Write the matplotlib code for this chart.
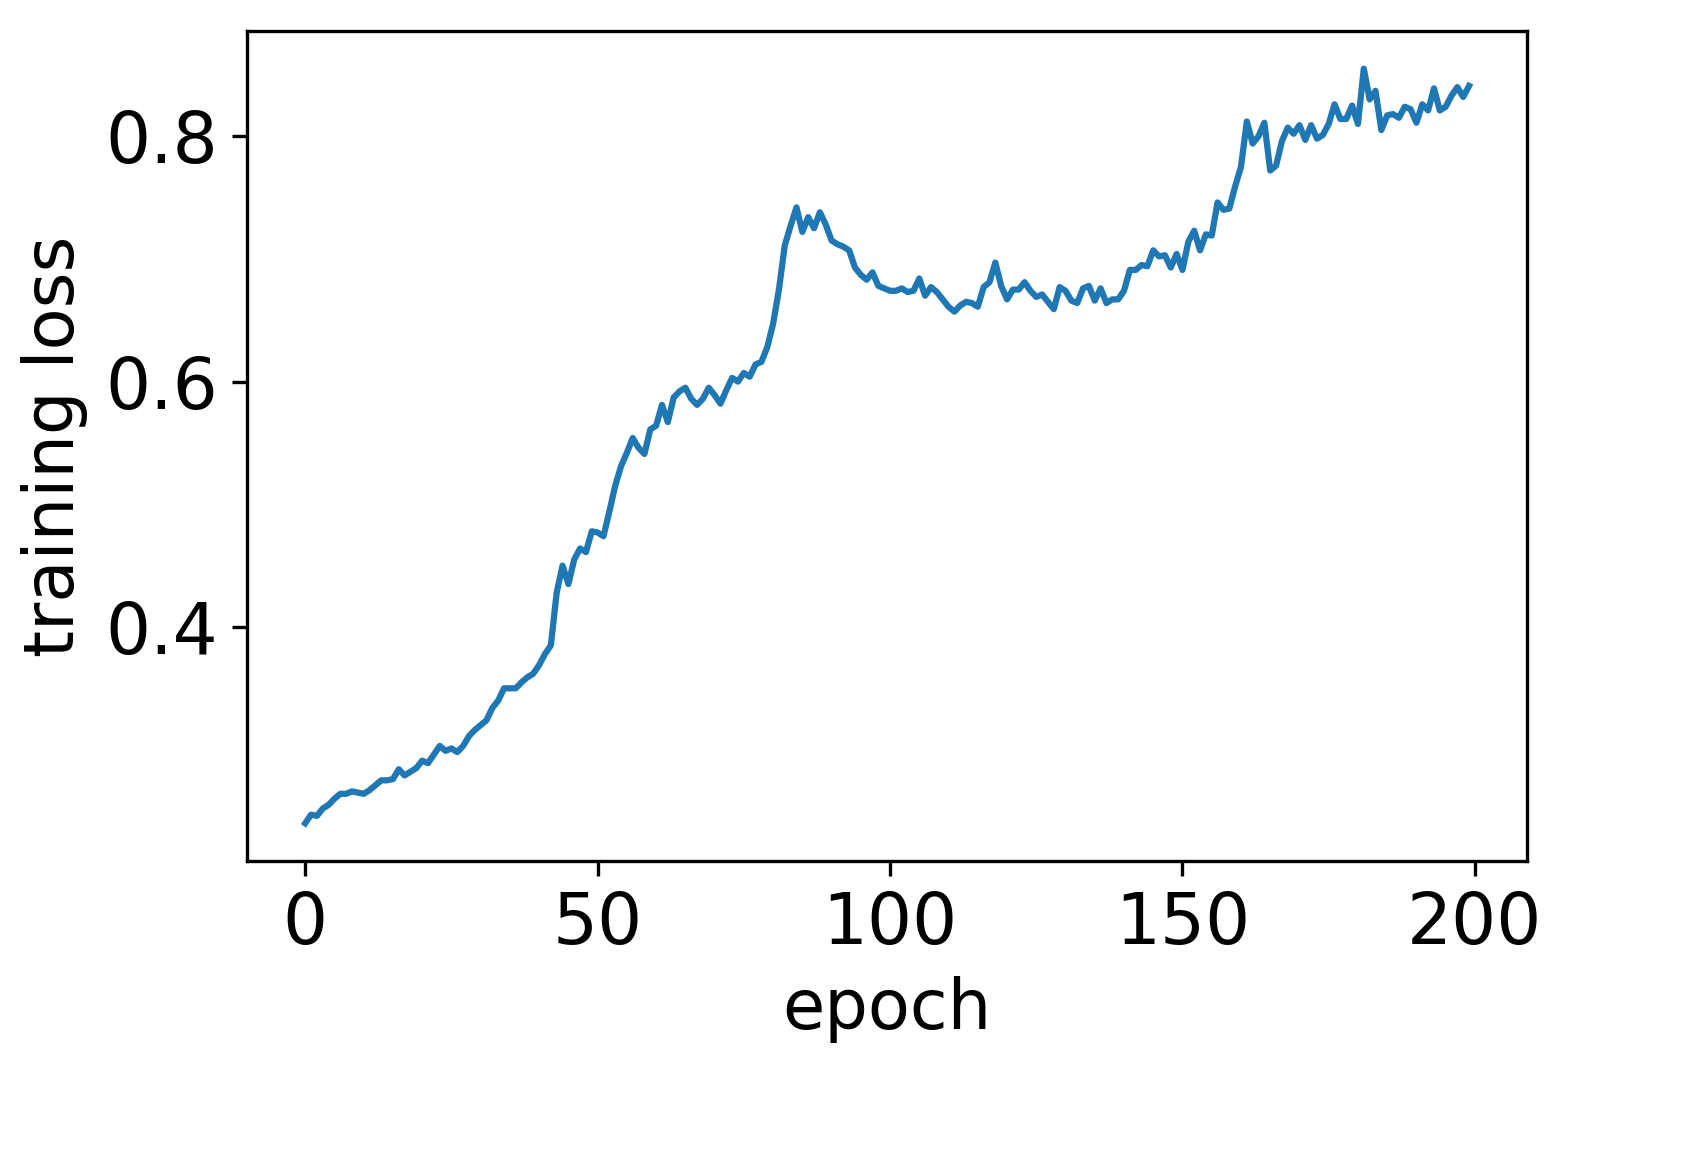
import matplotlib
matplotlib.use("Agg")
import matplotlib.pyplot as plt

# --- values ---
epochs = list(range(200))
loss = [
    0.240, 0.247, 0.246, 0.252, 0.255, 0.260, 0.264, 0.264, 0.266, 0.265,
    0.264, 0.267, 0.271, 0.275, 0.275, 0.276, 0.284, 0.279, 0.282, 0.285,
    0.291, 0.289, 0.296, 0.303, 0.299, 0.301, 0.298, 0.303, 0.311, 0.316,
    0.320, 0.324, 0.334, 0.340, 0.350, 0.350, 0.350, 0.355, 0.359, 0.362,
    0.369, 0.378, 0.385, 0.428, 0.450, 0.435, 0.455, 0.464, 0.461, 0.478,
    0.477, 0.474, 0.494, 0.515, 0.531, 0.542, 0.554, 0.546, 0.541, 0.561,
    0.564, 0.581, 0.567, 0.587, 0.592, 0.595, 0.586, 0.581, 0.586, 0.595,
    0.589, 0.582, 0.593, 0.603, 0.600, 0.607, 0.604, 0.614, 0.616, 0.628,
    0.647, 0.675, 0.711, 0.727, 0.742, 0.722, 0.734, 0.725, 0.738, 0.728,
    0.715, 0.712, 0.710, 0.707, 0.693, 0.687, 0.683, 0.689, 0.678, 0.676,
    0.674, 0.674, 0.676, 0.673, 0.674, 0.684, 0.670, 0.677, 0.673, 0.667,
    0.661, 0.657, 0.662, 0.665, 0.664, 0.661, 0.677, 0.681, 0.697, 0.678,
    0.667, 0.675, 0.675, 0.681, 0.674, 0.669, 0.671, 0.665, 0.659, 0.677,
    0.674, 0.666, 0.664, 0.676, 0.678, 0.666, 0.676, 0.664, 0.667, 0.667,
    0.674, 0.691, 0.691, 0.695, 0.694, 0.707, 0.702, 0.703, 0.693, 0.704,
    0.691, 0.714, 0.723, 0.707, 0.720, 0.719, 0.746, 0.740, 0.741, 0.759,
    0.775, 0.812, 0.794, 0.800, 0.811, 0.772, 0.776, 0.796, 0.807, 0.802,
    0.809, 0.797, 0.809, 0.798, 0.801, 0.810, 0.826, 0.814, 0.814, 0.825,
    0.810, 0.855, 0.830, 0.837, 0.805, 0.817, 0.818, 0.815, 0.824, 0.822,
    0.811, 0.826, 0.821, 0.839, 0.821, 0.824, 0.833, 0.840, 0.832, 0.841,
]
x_ticks = [0, 50, 100, 150, 200]
y_ticks = [0.4, 0.6, 0.8]

fig = plt.figure(figsize=(1707 / 300, 1161 / 300), dpi=300)
ax = fig.add_axes([0.1447, 0.2584, 0.75, 0.7149])
ax.plot(epochs, loss, color="#1f77b4", lw=1.5)

ax.set_xticks(x_ticks)
ax.set_yticks(y_ticks)
ax.tick_params(labelsize=17)
ax.set_xlabel("epoch", fontsize=16.5)
ax.set_ylabel("training loss", fontsize=16.5)

fig.savefig("out.png", dpi=300)
